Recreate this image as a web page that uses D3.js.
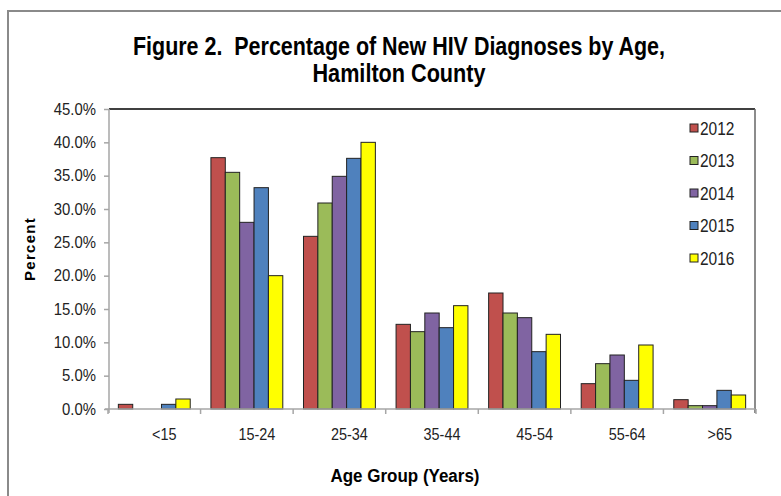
<!DOCTYPE html>
<html>
<head>
<meta charset="utf-8">
<script src="https://d3js.org/d3.v7.min.js"></script>
<style>
  html, body { margin: 0; padding: 0; background: #fff; }
  svg { display: block; }
  .narrow { font-family: "Liberation Sans Narrow", "Arial Narrow", "Liberation Sans", Arial, sans-serif; }
</style>
</head>
<body>
<svg id="chart" width="781" height="496"></svg>
<script>
const categories = ["<15", "15-24", "25-34", "35-44", "45-54", "55-64", ">65"];
const years = ["2012", "2013", "2014", "2015", "2016"];
const colors = ["#C0504D", "#9BBB59", "#8064A2", "#4F81BD", "#FFFF00"];
const values2012 = [0.7, 37.7, 25.9, 12.7, 17.4, 3.8, 1.4];
const values2013 = [0.0, 35.5, 30.9, 11.6, 14.4, 6.8, 0.5];
const values2014 = [0.0, 28.0, 34.9, 14.4, 13.7, 8.1, 0.5];
const values2015 = [0.7, 33.2, 37.6, 12.2, 8.6, 4.3, 2.8];
const values2016 = [1.5, 20.0, 40.0, 15.5, 11.2, 9.6, 2.1];
const yTicks = [0, 5, 10, 15, 20, 25, 30, 35, 40, 45];

const seriesValues = [values2012, values2013, values2014, values2015, values2016];
const data = categories.map((c, i) => ({
  cat: c,
  vals: years.map((yr, j) => ({ year: yr, value: seriesValues[j][i], color: colors[j] }))
}));

// emulate a condensed face by compressing glyphs horizontally
function squeeze(sel, factor) {
  sel.each(function () {
    const w = this.getComputedTextLength();
    d3.select(this).attr("textLength", w * factor).attr("lengthAdjust", "spacingAndGlyphs");
  });
}

const svg = d3.select("#chart");
const pLeft = 109, pRight = 755, pTop = 109, pBottom = 409;

// outer frame
svg.append("path")
  .attr("d", "M8,496 L8,11 L781,11")
  .attr("fill", "none").attr("stroke", "#8a8a8a").attr("stroke-width", 2);

// title
const t1 = svg.append("text").attr("class", "narrow")
  .attr("x", 399).attr("y", 55)
  .attr("text-anchor", "middle").attr("font-weight", "bold")
  .attr("font-size", 25).attr("fill", "#000")
  .text("Figure 2.\u00A0 Percentage of New HIV Diagnoses by Age,");
t1.attr("textLength", 532).attr("lengthAdjust", "spacingAndGlyphs");
const t2 = svg.append("text").attr("class", "narrow")
  .attr("x", 399).attr("y", 82)
  .attr("text-anchor", "middle").attr("font-weight", "bold")
  .attr("font-size", 25).attr("fill", "#000")
  .text("Hamilton County");
t2.attr("textLength", 173).attr("lengthAdjust", "spacingAndGlyphs");

const x0 = d3.scaleBand().domain(categories).range([pLeft - 1, pRight + 1]).paddingInner(0).paddingOuter(0);
const x1 = d3.scaleBand().domain(years).range([0, x0.bandwidth()]).paddingInner(0).paddingOuter(0.72);
const y = d3.scaleLinear().domain([0, 45]).range([pBottom, pTop]);

// plot frame: top black, right gray
svg.append("line").attr("x1", pLeft).attr("x2", pRight).attr("y1", pTop).attr("y2", pTop)
  .attr("stroke", "#000").attr("stroke-width", 1.5);
svg.append("line").attr("x1", pRight).attr("x2", pRight).attr("y1", pTop).attr("y2", pBottom + 4)
  .attr("stroke", "#666").attr("stroke-width", 1.5);

// bars
const groups = svg.append("g").selectAll("g").data(data).join("g")
  .attr("transform", d => `translate(${x0(d.cat)},0)`);
groups.selectAll("rect").data(d => d.vals).join("rect")
  .attr("x", d => x1(d.year))
  .attr("width", x1.bandwidth())
  .attr("y", d => y(d.value))
  .attr("height", d => pBottom - y(d.value))
  .attr("fill", d => d.color)
  .attr("stroke", "#222")
  .attr("stroke-width", 1)
  .attr("display", d => d.value > 0 ? null : "none");

// y axis
const yAxis = svg.append("g").attr("transform", `translate(${pLeft},0)`)
  .call(d3.axisLeft(y).tickValues(yTicks).tickFormat(d => d.toFixed(1) + "%").tickSize(5).tickPadding(8));
yAxis.select(".domain").attr("stroke", "#a6a6a6").attr("stroke-width", 1.5)
  .attr("d", `M0,${pTop}V${pBottom + 4}`);
yAxis.selectAll(".tick line").attr("stroke", "#a6a6a6").attr("stroke-width", 1.5);
yAxis.selectAll(".tick text").attr("class", "narrow").attr("font-size", 16).attr("fill", "#222")
  .call(squeeze, 0.93);

// x axis
const xAxis = svg.append("g").attr("transform", `translate(0,${pBottom})`)
  .call(d3.axisBottom(x0).tickSize(0).tickPadding(20));
xAxis.select(".domain").attr("stroke", "#a6a6a6").attr("stroke-width", 1.5)
  .attr("d", `M${pLeft - 4},0H${pRight}`);
xAxis.selectAll(".tick text").attr("class", "narrow").attr("font-size", 16).attr("fill", "#222")
  .attr("dx", 10)
  .call(squeeze, 0.9);
// boundary ticks
const boundaries = categories.map(c => x0(c)).concat([x0(categories[categories.length - 1]) + x0.bandwidth()]);
xAxis.selectAll(".btick").data(boundaries).join("line")
  .attr("x1", d => d).attr("x2", d => d).attr("y1", 0).attr("y2", 5)
  .attr("stroke", "#a6a6a6").attr("stroke-width", 1.5);

// axis titles
svg.append("text").attr("class", "narrow").attr("x", 405).attr("y", 482)
  .attr("text-anchor", "middle").attr("font-weight", "bold").attr("font-size", 18)
  .text("Age Group (Years)")
  .attr("textLength", 149).attr("lengthAdjust", "spacingAndGlyphs");
svg.append("text")
  .attr("transform", "translate(35,249) rotate(-90)")
  .attr("text-anchor", "middle").attr("font-weight", "bold").attr("font-size", 15)
  .attr("font-family", "Liberation Sans, Arial, sans-serif").attr("letter-spacing", 1.3)
  .text("Percent");

// legend
const legend = svg.append("g").selectAll("g").data(years).join("g")
  .attr("transform", (d, i) => `translate(690,${128 + i * 32.5})`);
legend.append("rect").attr("x", 0).attr("y", -4).attr("width", 8).attr("height", 8)
  .attr("fill", (d, i) => colors[i]).attr("stroke", "#222").attr("stroke-width", 1);
legend.append("text").attr("class", "narrow").attr("x", 10).attr("y", 6.5)
  .attr("font-size", 18).attr("fill", "#222").text(d => d)
  .call(squeeze, 0.86);
</script>
</body>
</html>
